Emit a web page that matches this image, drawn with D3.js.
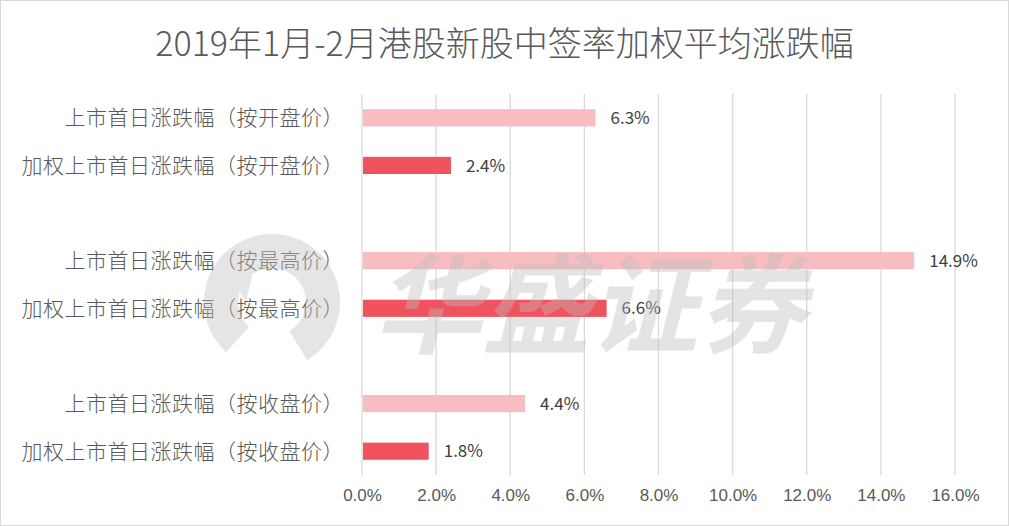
<!DOCTYPE html>
<html><head><meta charset="utf-8">
<script src="https://cdn.jsdelivr.net/npm/d3@7"></script>
<style>
body{margin:0;background:#fff;}
svg{display:block;font-family:"Liberation Sans Narrow","Noto Sans CJK SC",sans-serif;}
</style></head>
<body><svg id="c" width="1009" height="526"></svg>
<script>
const title = "2019年1月-2月港股新股中签率加权平均涨跌幅";
const categories = ["上市首日涨跌幅（按开盘价）","加权上市首日涨跌幅（按开盘价）","_gap1",
  "上市首日涨跌幅（按最高价）","加权上市首日涨跌幅（按最高价）","_gap2",
  "上市首日涨跌幅（按收盘价）","加权上市首日涨跌幅（按收盘价）"];
const values = [6.3, 2.4, null, 14.9, 6.6, null, 4.4, 1.8];
const weighted = [false, true, null, false, true, null, false, true];
const xTicks = [0,2,4,6,8,10,12,14,16];

const svg = d3.select("#c");
const W = 1009, H = 526;
svg.append("rect").attr("x",0.5).attr("y",0.5).attr("width",W-1).attr("height",H-1)
  .attr("fill","#fff").attr("stroke","#d9d9d9");

const m = {left:362, right:54, top:94, bottom:51};
const x = d3.scaleLinear().domain([0,16]).range([m.left, W-m.right]);
const y = d3.scaleBand().domain(categories).range([m.top, H-m.bottom]).paddingInner(0.64).paddingOuter(0.32);

svg.append("text").attr("x",W/2).attr("y",56).attr("text-anchor","middle")
  .attr("font-size",34).attr("font-weight",300).attr("fill","#595959").text(title);

// gridlines
svg.append("g").selectAll("line").data(xTicks).join("line")
  .attr("x1",d=>x(d)).attr("x2",d=>x(d)).attr("y1",m.top).attr("y2",H-m.bottom)
  .attr("stroke","#d9d9d9").attr("stroke-width",1.3);

// x axis labels
const xa = svg.append("g").attr("transform",`translate(0,${H-m.bottom})`)
  .call(d3.axisBottom(x).tickValues(xTicks).tickFormat(d=>d.toFixed(1)+"%").tickSize(0).tickPadding(14));
xa.select(".domain").remove();
xa.selectAll("text").attr("font-size",17).attr("fill","#595959").attr("font-family",null);

// bars
const rows = categories.map((c,i)=>({c, v:values[i], w:weighted[i]})).filter(d=>d.v!==null);
svg.append("g").selectAll("rect").data(rows).join("rect")
  .attr("x",x(0)+1).attr("y",d=>y(d.c)).attr("height",y.bandwidth())
  .attr("width",d=>x(d.v)-x(0)-1)
  .attr("fill",d=>d.w?"#F0535D":"#F8BDC1");

// value labels
svg.append("g").selectAll("text").data(rows).join("text")
  .attr("x",d=>x(d.v)+15).attr("y",d=>y(d.c)+y.bandwidth()/2).attr("dy","0.36em")
  .attr("font-size",17).attr("fill","#404040").text(d=>d.v.toFixed(1)+"%");

// category labels
svg.append("g").selectAll("text").data(rows).join("text")
  .attr("x",344).attr("y",d=>y(d.c)+y.bandwidth()/2).attr("dy","0.36em")
  .attr("text-anchor","end").attr("font-size",21).attr("font-weight",300)
  .attr("letter-spacing",0.5).attr("fill","#595959").text(d=>d.c);

// watermark
const wm = svg.append("g").attr("opacity",0.4).attr("fill","#bfbfbf");
wm.append("path").attr("transform","translate(272,302)")
  .attr("d", d3.arc()({innerRadius:34,outerRadius:68,startAngle:-2.4,endAngle:2.6}));
wm.append("path").attr("d","M222,262 L262,234 L246,302 Z");
wm.append("text").attr("x",590).attr("y",345).attr("text-anchor","middle")
  .attr("font-size",108).attr("font-weight","bold").attr("font-style","italic")
  .attr("font-family","Noto Sans CJK SC").attr("fill","#bdbdbd").text("华盛证券");
</script></body></html>
